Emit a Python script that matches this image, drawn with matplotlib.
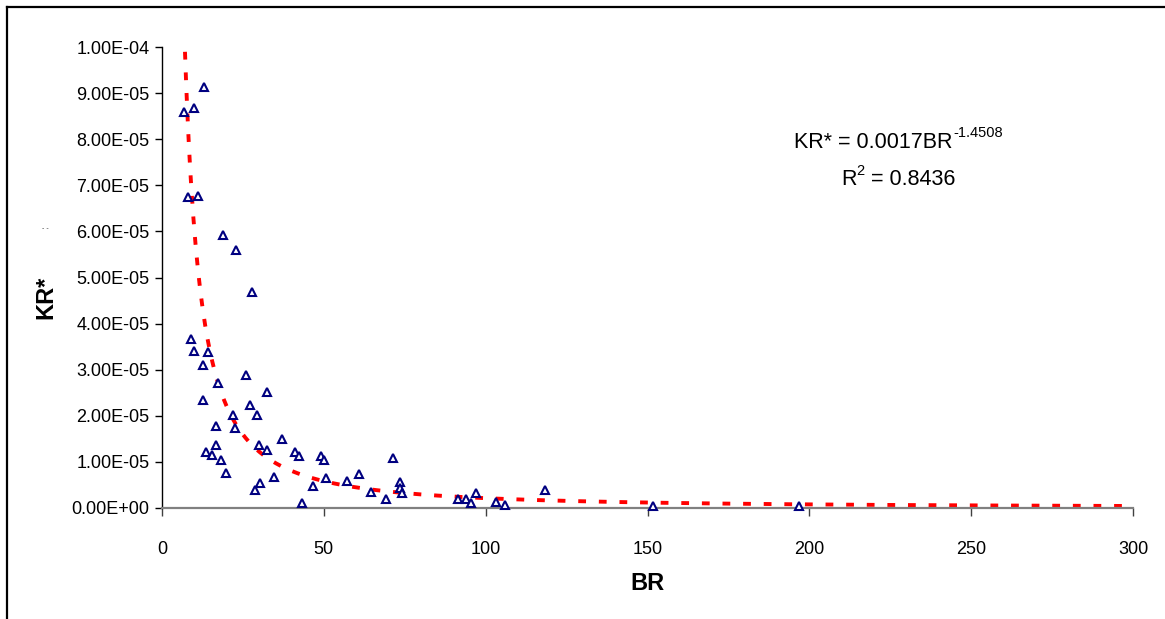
import numpy as np
import matplotlib
matplotlib.use("Agg")
import matplotlib.pyplot as plt
from matplotlib.lines import Line2D
from matplotlib.ticker import FixedLocator

plt.rcParams['font.family'] = ['Liberation Sans', 'DejaVu Sans']

# ---- data ----
br = [13.1, 6.8, 9.9, 7.9, 11.0, 18.7, 22.9, 27.7, 8.9, 10.0,
      14.2, 12.6, 26.0, 17.3, 32.3, 12.6, 27.1, 29.2, 22.0, 16.8,
      22.5, 37.0, 16.8, 30.1, 13.6, 15.6, 32.3, 41.2, 42.3, 18.2,
      19.9, 34.5, 30.2, 28.8, 43.3, 49.0, 50.0, 46.5, 50.6, 57.3,
      61.0, 64.6, 69.3, 71.5, 73.6, 73.6, 74.2, 91.3, 93.8, 95.4,
      96.9, 103.3, 105.9, 118.3, 151.6, 196.7]
kr_e5 = [9.13, 8.60, 8.68, 6.74, 6.77, 5.92, 5.60, 4.69, 3.67, 3.41,
         3.38, 3.10, 2.89, 2.72, 2.52, 2.34, 2.23, 2.02, 2.01, 1.77,
         1.74, 1.49, 1.36, 1.36, 1.21, 1.16, 1.25, 1.21, 1.13, 1.04,
         0.75, 0.68, 0.55, 0.39, 0.10, 1.13, 1.04, 0.48, 0.64, 0.59,
         0.73, 0.34, 0.19, 1.09, 0.56, 0.44, 0.33, 0.19, 0.19, 0.10,
         0.32, 0.13, 0.06, 0.39, 0.05, 0.05]
kr = [v * 1e-5 for v in kr_e5]

# power trendline shown on the chart
coef_a = 0.0017
coef_b = -1.4508
r_squared = 0.8436
trend_x_start = 7.1
trend_x_end = 300

x_ticks = [0, 50, 100, 150, 200, 250, 300]
y_ticks = [0, 1e-5, 2e-5, 3e-5, 4e-5, 5e-5, 6e-5, 7e-5, 8e-5, 9e-5, 1e-4]
y_tick_labels = ["0.00E+00", "1.00E-05", "2.00E-05", "3.00E-05", "4.00E-05",
                 "5.00E-05", "6.00E-05", "7.00E-05", "8.00E-05", "9.00E-05",
                 "1.00E-04"]

W, H = 1165, 619
fig = plt.figure(figsize=(W / 100, H / 100), dpi=100)
ax = fig.add_axes([162 / W, 1 - 508 / H, (1133 - 162) / W, (508 - 47) / H])

# trendline
tx = np.linspace(trend_x_start, trend_x_end, 800)
ty = coef_a * tx ** coef_b
ax.plot(tx, ty, color='#ff0000', lw=2.8, linestyle=(0, (2.0, 3.3)),
        dash_capstyle='butt', zorder=2, clip_on=True)

# data points
ax.plot(br, kr, linestyle='none', marker='^', markersize=6.2,
        markerfacecolor='white', markeredgecolor='#000080',
        markeredgewidth=1.5, zorder=3, clip_on=False)

ax.set_xlim(0, 300)
ax.set_ylim(0, 1e-4)
ax.xaxis.set_major_locator(FixedLocator(x_ticks))
ax.yaxis.set_major_locator(FixedLocator(y_ticks))
ax.set_yticklabels(y_tick_labels)
ax.set_xticklabels([str(v) for v in x_ticks])

for s in ['top', 'right']:
    ax.spines[s].set_visible(False)
ax.spines['left'].set_color('black')
ax.spines['left'].set_linewidth(1.0)
ax.spines['bottom'].set_color('#808080')
ax.spines['bottom'].set_linewidth(1.6)

ax.tick_params(axis='y', direction='out', length=5, width=1, color='black',
               labelsize=13, pad=4)
ax.tick_params(axis='x', direction='out', length=6, width=1, color='#404040',
               labelsize=13, pad=18)

ax.set_xlabel('BR', fontsize=17, fontweight='bold', labelpad=10)
ax.set_ylabel('KR*', fontsize=17, fontweight='bold', labelpad=8)
ax.yaxis.set_label_coords(-(162 - 57) / (1133 - 162), (508 - 297) / (508 - 47))

# equation text, with a plain hyphen in the exponent as in the original
renderer = fig.canvas.get_renderer()
eq_main = "KR* = 0.0017BR"
eq_sup = "-1.4508"
cx = 898
t_main = fig.text(0, 1 - 142 / H, eq_main, fontsize=15.5, ha='left', va='center')
t_sup = fig.text(0, 1 - 133 / H, eq_sup, fontsize=10.5, ha='left', va='center')
wm = t_main.get_window_extent(renderer).width
ws = t_sup.get_window_extent(renderer).width
x0 = cx - (wm + ws) / 2
t_main.set_x(x0 / W)
t_sup.set_x((x0 + wm + 1) / W)

t2_main = fig.text(0, 1 - 180 / H, "R", fontsize=15.5, ha='left', va='center')
t2_sup = fig.text(0, 1 - 171 / H, "2", fontsize=10.5, ha='left', va='center')
t2_rest = fig.text(0, 1 - 180 / H, f" = {r_squared:.4f}", fontsize=15.5,
                   ha='left', va='center')
w1 = t2_main.get_window_extent(renderer).width
w2 = t2_sup.get_window_extent(renderer).width
w3 = t2_rest.get_window_extent(renderer).width
x1 = cx - (w1 + w2 + w3) / 2
t2_main.set_x(x1 / W)
t2_sup.set_x((x1 + w1) / W)
t2_rest.set_x((x1 + w1 + w2) / W)

# small stray marks at left
fig.text(45 / W, 1 - 229 / H, "- -", fontsize=5, color='#444444',
         ha='center', va='center')

# outer frame (left and top edges visible)
fig.add_artist(Line2D([7 / W, 7 / W], [0, 1 - 7 / H], transform=fig.transFigure,
                      color='black', lw=1.6))
fig.add_artist(Line2D([7 / W, 1], [1 - 7 / H, 1 - 7 / H], transform=fig.transFigure,
                      color='black', lw=1.6))

fig.savefig('out.png', dpi=100)
